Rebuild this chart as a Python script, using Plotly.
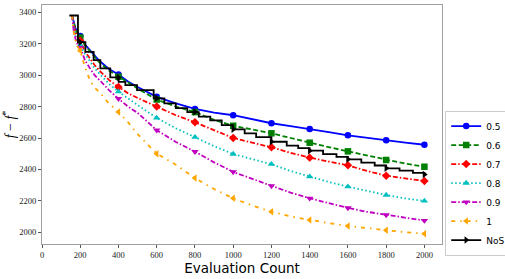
import numpy as np
import plotly.graph_objects as go

# ---------------- data ----------------
X_EVAL = [157, 165, 175, 185, 200, 225, 250, 275, 300, 350, 400, 450, 500, 600, 700,
          800, 900, 1000, 1100, 1200, 1300, 1400, 1500, 1600, 1700, 1800, 1900, 2000]

Y_05 = [3380, 3340, 3300, 3275, 3250, 3195, 3160, 3125, 3092, 3040, 3005, 2960, 2925, 2862, 2820,
        2785, 2762, 2745, 2718, 2694, 2676, 2658, 2638, 2617, 2600, 2585, 2570, 2557]
Y_06 = [3380, 3330, 3290, 3265, 3240, 3190, 3155, 3115, 3082, 3030, 2990, 2950, 2915, 2845, 2800,
        2765, 2715, 2678, 2655, 2630, 2600, 2570, 2542, 2515, 2488, 2460, 2437, 2417]
Y_07 = [3380, 3320, 3270, 3245, 3220, 3150, 3105, 3065, 3030, 2970, 2925, 2885, 2855, 2800, 2745,
        2700, 2650, 2600, 2570, 2541, 2505, 2475, 2450, 2426, 2390, 2360, 2343, 2326]
Y_08 = [3380, 3310, 3250, 3215, 3190, 3135, 3090, 3045, 3010, 2945, 2895, 2850, 2810, 2728, 2662,
        2605, 2548, 2498, 2465, 2433, 2390, 2354, 2320, 2290, 2262, 2237, 2215, 2199]
Y_09 = [3380, 3290, 3230, 3200, 3175, 3095, 3045, 3000, 2970, 2905, 2850, 2800, 2760, 2650, 2575,
        2513, 2445, 2384, 2340, 2295, 2252, 2216, 2185, 2155, 2130, 2110, 2090, 2074]
Y_10 = [3380, 3280, 3220, 3185, 3155, 3050, 2970, 2920, 2893, 2820, 2765, 2700, 2625, 2500, 2430,
        2345, 2275, 2216, 2170, 2131, 2100, 2078, 2058, 2040, 2025, 2013, 2000, 1991]

NOS_X = [143, 188, 227, 270, 305, 357, 401, 436, 497, 584, 640, 700, 760, 820, 880, 940, 1000,
         1060, 1120, 1200, 1280, 1340, 1400, 1470, 1540, 1600, 1670, 1740, 1800, 1870, 1940, 2000]
NOS_Y = [3380, 3210, 3149, 3096, 3044, 2986, 2958, 2937, 2905, 2853, 2821, 2790, 2765, 2736, 2712,
         2682, 2655, 2630, 2605, 2576, 2552, 2535, 2519, 2497, 2480, 2464, 2443, 2425, 2407, 2392,
         2378, 2367]

MARK_X = [200, 400, 600, 800, 1000, 1200, 1400, 1600, 1800, 2000]
LABELS = ["0.5", "0.6", "0.7", "0.8", "0.9", "1", "NoS"]
X_TICKS = list(range(0, 2001, 200))
Y_TICKS = list(range(2000, 3401, 200))

# ---------------- styles ----------------
series = [
    (LABELS[0], Y_05, "#0000ff", "solid", "circle"),
    (LABELS[1], Y_06, "#008000", "5px,2.5px", "square"),
    (LABELS[2], Y_07, "#ff0000", "5px,2px,1.5px,2px", "diamond"),
    (LABELS[3], Y_08, "#00bfbf", "1.5px,2.5px", "triangle-up"),
    (LABELS[4], Y_09, "#bf00bf", "5px,2px,1.5px,2px", "triangle-down"),
    (LABELS[5], Y_10, "#ffa500", "4px,5px,1.5px,5px", "triangle-left"),
]

fig = go.Figure()
LW = 1.8
MS = 6.5

for name, ys, col, dash, sym in series:
    fig.add_trace(go.Scatter(x=X_EVAL, y=ys, mode="lines", showlegend=False,
                             line=dict(color=col, width=LW, dash=dash)))
    idx = [X_EVAL.index(m) for m in MARK_X]
    fig.add_trace(go.Scatter(x=[X_EVAL[i] for i in idx], y=[ys[i] for i in idx], mode="markers",
                             showlegend=False, marker=dict(color=col, size=MS, symbol=sym)))
    fig.add_trace(go.Scatter(x=[None], y=[None], mode="lines+markers", name=name,
                             line=dict(color=col, width=LW, dash=dash),
                             marker=dict(color=col, size=MS, symbol=sym)))

# NoS step curve
fig.add_trace(go.Scatter(x=NOS_X, y=NOS_Y, mode="lines", line_shape="hv", showlegend=False,
                         line=dict(color="black", width=LW)))
nx = np.array(NOS_X)
ny = np.array(NOS_Y)
mi = np.searchsorted(nx, np.array(MARK_X), side="right") - 1
fig.add_trace(go.Scatter(x=MARK_X, y=ny[mi].tolist(), mode="markers", showlegend=False,
                         marker=dict(color="black", size=MS, symbol="triangle-right")))
fig.add_trace(go.Scatter(x=[None], y=[None], mode="lines+markers", name=LABELS[6],
                         line=dict(color="black", width=LW),
                         marker=dict(color="black", size=MS, symbol="triangle-right")))

axis_common = dict(showgrid=False, zeroline=False, showline=True, mirror=True,
                   linecolor="#a0a0a0", linewidth=1.2, ticks="outside", ticklen=3,
                   tickcolor="#555555", tickwidth=1, automargin=False,
                   tickfont=dict(family="Liberation Serif", size=8.5, color="#222222"))

fig.update_layout(
    width=505, height=279,
    margin=dict(l=42, r=63, t=5, b=35, autoexpand=False),
    paper_bgcolor="white", plot_bgcolor="white",
    xaxis=dict(range=[0, 2092], tickvals=X_TICKS,
               title=dict(text="Evaluation Count", standoff=0,
                          font=dict(family="DejaVu Sans", size=13.5, color="black")),
               **axis_common),
    yaxis=dict(range=[1925, 3447], tickvals=Y_TICKS,
               title=dict(text="<i>f</i> − <i>f</i><sup>*</sup>", standoff=4,
                          font=dict(family="Liberation Serif", size=14, color="black")),
               **axis_common),
    legend=dict(x=1.008, xanchor="left", y=0.255, yanchor="middle",
                bordercolor="#cccccc", borderwidth=1, bgcolor="white",
                itemwidth=30, tracegroupgap=0,
                font=dict(family="DejaVu Sans", size=9, color="black")),
)

fig.write_html("out.html", config={"displayModeBar": False},
               post_script="document.body.style.margin='0';")
